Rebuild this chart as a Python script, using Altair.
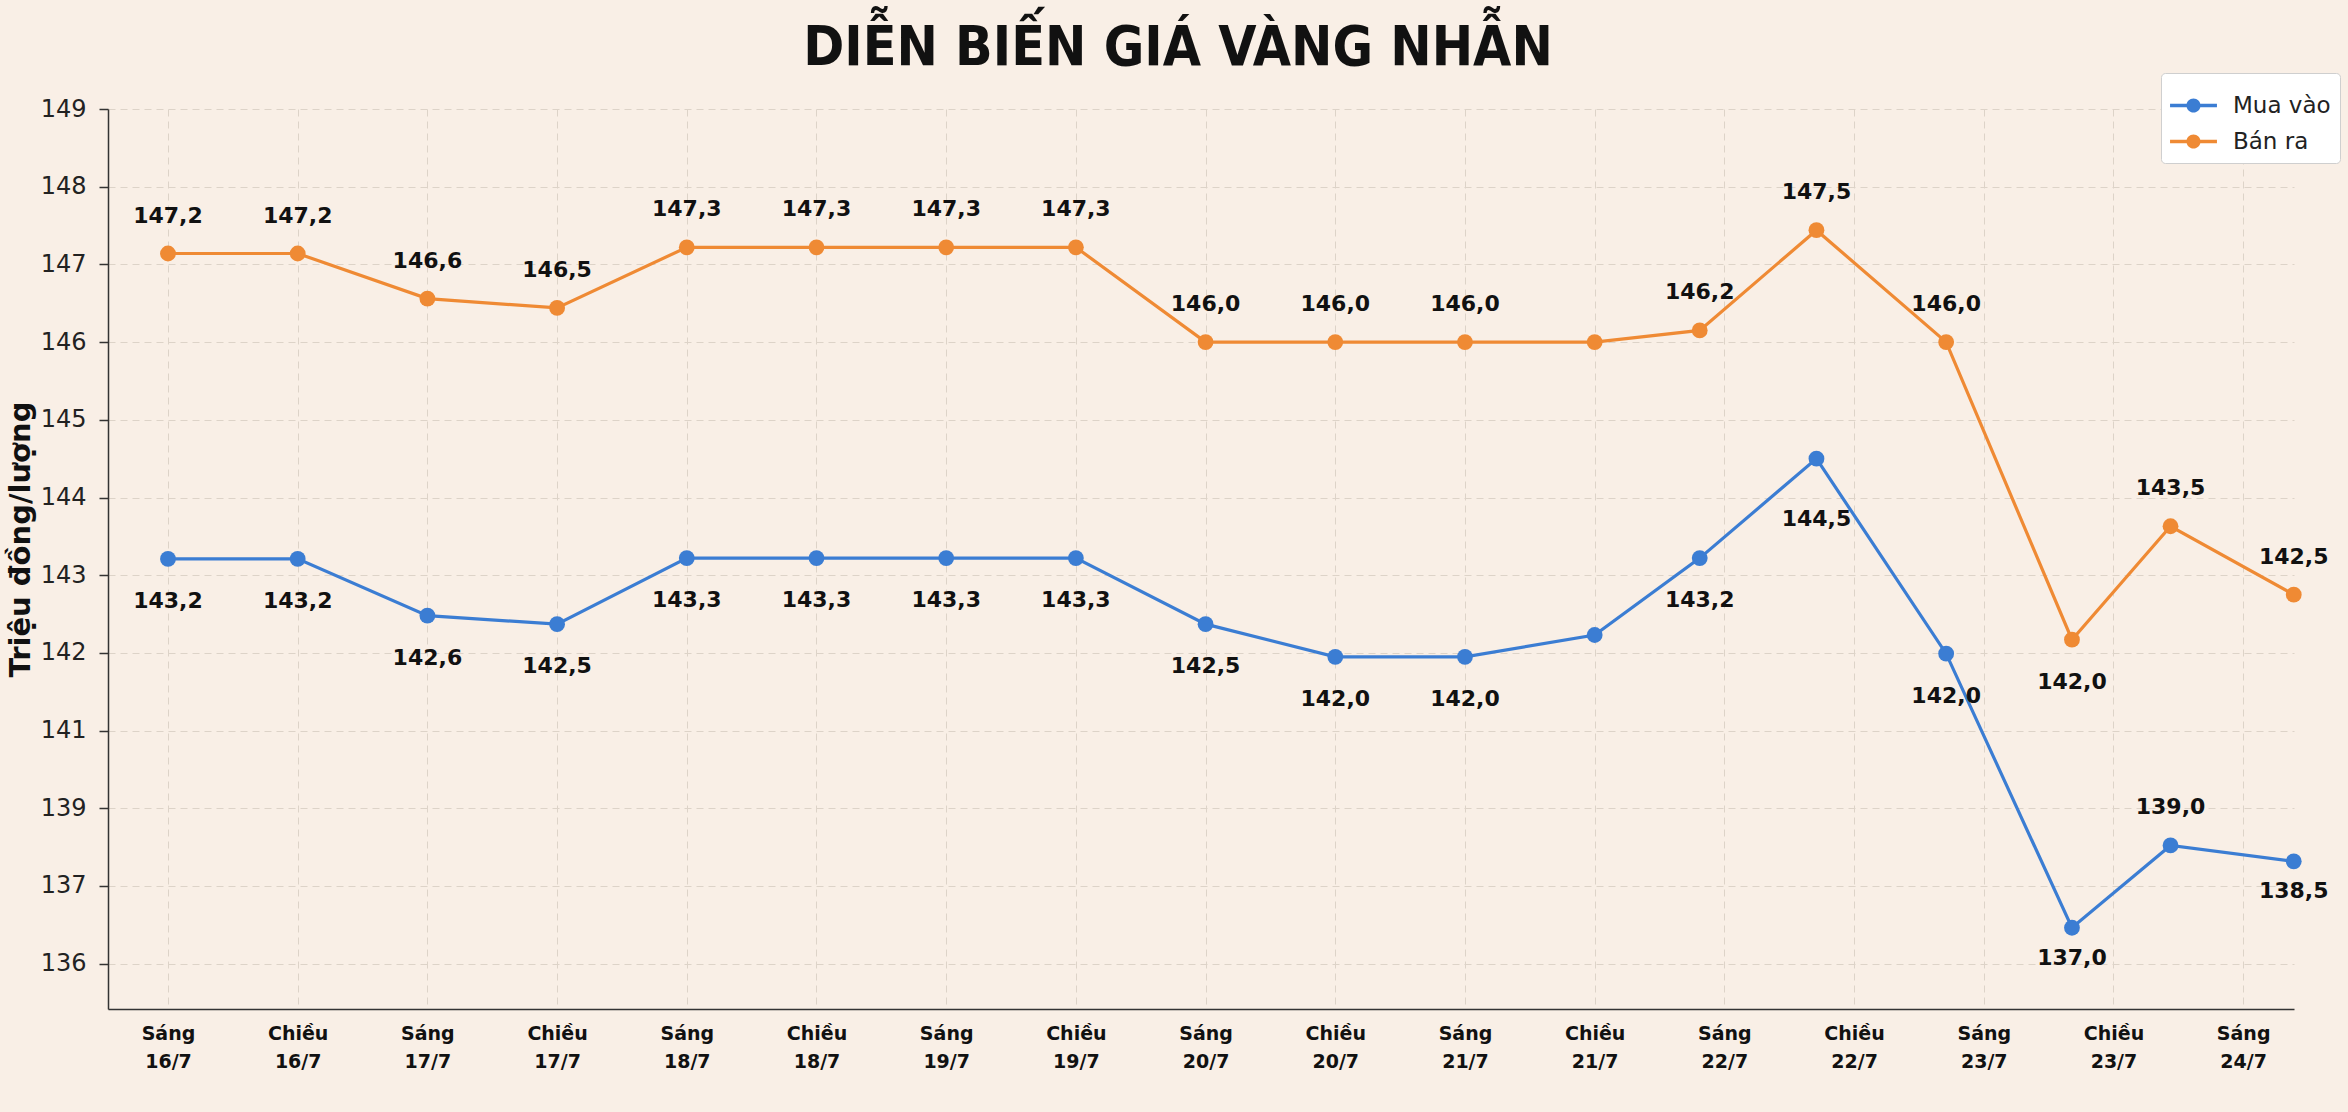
import altair as alt
import pandas as pd

# Nhãn trục hoành (phiên giao dịch), "|" = xuống dòng
phien = ["Sáng|16/7", "Chiều|16/7", "Sáng|17/7", "Chiều|17/7", "Sáng|18/7", "Chiều|18/7",
         "Sáng|19/7", "Chiều|19/7", "Sáng|20/7", "Chiều|20/7", "Sáng|21/7", "Chiều|21/7",
         "Sáng|22/7", "Chiều|22/7", "Sáng|23/7", "Chiều|23/7", "Sáng|24/7"]

# Vị trí các điểm trên trục phiên
vi_tri = [0, 1, 2, 3, 4, 5, 6, 7, 8, 9, 10, 11, 11.81, 12.71, 13.71, 14.68, 15.44, 16.39]

# Giá theo vị trí vẽ trên hình (triệu đồng/lượng)
mua_vao = [143.21, 143.21, 142.48, 142.37, 143.22, 143.22, 143.22, 143.22, 142.37, 141.95,
           141.95, 142.23, 143.22, 144.5, 141.99, 136.46, 138.04, 137.63]
ban_ra = [147.14, 147.14, 146.56, 146.44, 147.22, 147.22, 147.22, 147.22, 146.0, 146.0,
          146.0, 146.0, 146.15, 147.44, 146.0, 142.17, 143.63, 142.75]

# Số ghi trên nhãn
nhan_mua_vao = [143.2, 143.2, 142.6, 142.5, 143.3, 143.3, 143.3, 143.3, 142.5, 142.0,
                142.0, None, 143.2, 144.5, 142.0, 137.0, 139.0, 138.5]
nhan_ban_ra = [147.2, 147.2, 146.6, 146.5, 147.3, 147.3, 147.3, 147.3, 146.0, 146.0,
               146.0, None, 146.2, 147.5, 146.0, 142.0, 143.5, 142.5]

y_ticks = [136, 137, 139, 141, 142, 143, 144, 145, 146, 147, 148, 149]

series_names = ["Mua vào", "Bán ra"]
colors = ["#3b7dd3", "#ef8a34"]

# label placement (not data): default blue below, orange above
PLACE = {("Mua vào", 16): "above", ("Mua vào", 13): "below_far",
         ("Mua vào", 15): "below_near", ("Mua vào", 17): "below_near",
         ("Bán ra", 15): "below"}

rows = []
for name, ys, labels in [("Mua vào", mua_vao, nhan_mua_vao), ("Bán ra", ban_ra, nhan_ban_ra)]:
    for i, (x, y, lb) in enumerate(zip(vi_tri, ys, labels)):
        default = "below" if name == "Mua vào" else "above"
        rows.append({
            "x": x, "y": y, "series": name,
            "label": "" if lb is None else f"{lb:.1f}".replace(".", ","),
            "pos": PLACE.get((name, i), default),
        })
df = pd.DataFrame(rows)

W, H = 2186, 900
FONT = "DejaVu Sans"
GRID = "#ddd3c8"

x_scale = alt.Scale(domain=[-0.4626, 16.392], nice=False, zero=False)
y_scale = alt.Scale(domain=[135.417, 137, 139, 141, 149],
                    range=[H, H - 123.3, H - 200.7, H - 278.4, 0],
                    nice=False, zero=False)
color_scale = alt.Scale(domain=series_names, range=colors)

arr = "[" + ",".join(f"'{s}'" for s in phien) + "]"
x_axis = alt.Axis(values=list(range(len(phien))),
                  labelExpr=f"split({arr}[round(datum.value)], '|')",
                  title=None, labelFont=FONT, labelFontSize=19, labelFontWeight="bold",
                  labelColor="#111", labelPadding=15, labelLineHeight=28,
                  labelOverlap=False, labelFlush=False, ticks=False,
                  domainColor="#333", domainWidth=1.5,
                  grid=True, gridColor=GRID, gridDash=[7, 5], gridWidth=1)
y_axis = alt.Axis(values=y_ticks, format="d", title="Triệu đồng/lượng",
                  titleFont=FONT, titleFontSize=29, titleFontWeight="bold", titleColor="#111",
                  titlePadding=5, titleY=430, labelFont=FONT, labelFontSize=24, labelColor="#222",
                  labelPadding=13, tickSize=9, tickColor="#333", tickWidth=1.5,
                  domainColor="#333", domainWidth=1.5,
                  grid=True, gridColor=GRID, gridDash=[7, 5], gridWidth=1)

# legend symbol: short line with a dot in the middle (unit box -1..1)
SYMBOL = ("M-1,-0.07 L1,-0.07 L1,0.07 L-1,0.07 Z "
          "M0.3,0 A0.3,0.3 0 1,1 -0.3,0 A0.3,0.3 0 1,1 0.3,0 Z")

LEGEND = dict(title=None, orient="none", legendX=2053, legendY=-36,
              symbolType=SYMBOL, symbolSize=2200, symbolStrokeWidth=0, symbolOpacity=1,
              labelFont=FONT, labelFontSize=23, labelColor="#222",
              labelOffset=16, rowPadding=-10, padding=9,
              fillColor="white", strokeColor="#cfcfcf", cornerRadius=4)

base = alt.Chart(df)

line = base.mark_line(strokeWidth=3.2).encode(
    x=alt.X("x:Q", scale=x_scale, axis=x_axis),
    y=alt.Y("y:Q", scale=y_scale, axis=y_axis),
    stroke=alt.Stroke("series:N", scale=color_scale, legend=alt.Legend(**LEGEND)),
    order="x:Q",
)

points = base.mark_circle(size=250, opacity=1).encode(
    x="x:Q", y="y:Q",
    color=alt.Color("series:N", scale=color_scale, legend=alt.Legend(**LEGEND)),
)

txt_kw = dict(font=FONT, fontSize=22, fontWeight="bold", color="#111", baseline="middle")
offsets = {"above": -38, "below": 42, "below_far": 60, "below_near": 30}
texts = [
    base.transform_filter(f"datum.pos == '{p}'").mark_text(dy=d, **txt_kw).encode(
        x="x:Q", y="y:Q", text="label:N")
    for p, d in offsets.items()
]

chart = alt.layer(line, points, *texts).properties(
    width=W, height=H,
    title=alt.TitleParams("DIỄN BIẾN GIÁ VÀNG NHẪN", font="DejaVu Sans Condensed, DejaVu Sans",
                          fontSize=55, fontWeight="bold", color="#111", anchor="middle",
                          dx=-23, dy=20, offset=16),
    padding={"left": 108, "top": 109, "right": 54, "bottom": 103},
    autosize=alt.AutoSizeParams(type="none"),
).configure(background="#f9efe6").configure_view(stroke="transparent")

chart.save("out.html", embed_options={"renderer": "svg", "actions": False})
